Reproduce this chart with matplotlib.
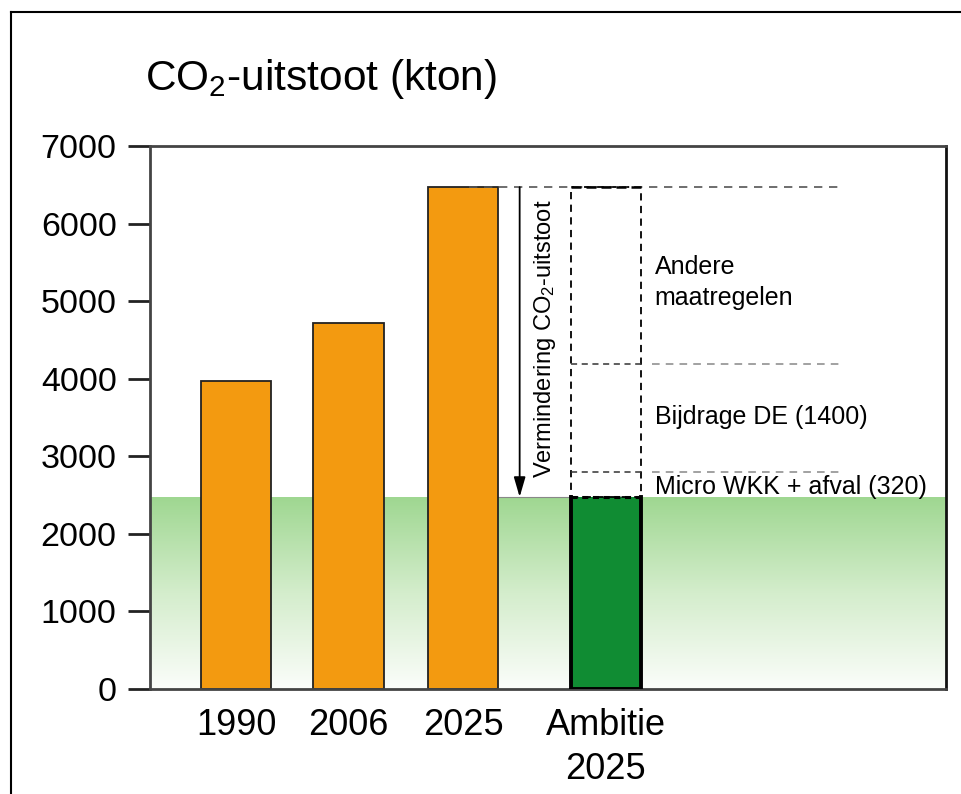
import numpy as np
import matplotlib
matplotlib.use("Agg")
import matplotlib.pyplot as plt
from matplotlib.colors import LinearSegmentedColormap
from matplotlib.lines import Line2D

plt.rcParams['font.family'] = ['Liberation Sans', 'DejaVu Sans']
plt.rcParams['mathtext.fontset'] = 'custom'
plt.rcParams['mathtext.rm'] = 'Liberation Sans'
plt.rcParams['mathtext.it'] = 'Liberation Sans'

# -- Data (kton CO2) --
years = ["1990", "2006", "2025"]
emissions = [3970, 4720, 6470]
ambition_label = "Ambitie\n2025"
ambition = 2475
micro_wkk = 320      # Micro WKK + afval
bijdrage_de = 1400   # Bijdrage DE
yticks = [0, 1000, 2000, 3000, 4000, 5000, 6000, 7000]

x_years = np.array([0.0, 0.99, 2.0])
x_amb = 3.26
bar_w = 0.62

orange = "#f39a10"
green = "#108c33"

fig = plt.figure(figsize=(9.62, 7.94), dpi=100)
ax = fig.add_axes([150 / 962, 1 - 689 / 794, 796 / 962, 543 / 794])
ax.set_xlim(-0.76, 6.26)
ax.set_ylim(0, 7000)

# green gradient band up to the ambition level
cmap = LinearSegmentedColormap.from_list("band", ["#fbfdfa", "#d4edcc", "#9fd791"])
grad = np.linspace(0, 1, 256).reshape(-1, 1)
ax.imshow(grad, cmap=cmap, origin="lower", aspect="auto",
          extent=[-0.76, 6.26, 0, ambition], zorder=0)

ax.bar(x_years, emissions, width=bar_w, color=orange,
       edgecolor="#222222", linewidth=1.3, zorder=2)

# ambition bar: solid sides, dashed top
ax.bar([x_amb], [ambition], width=bar_w, color=green, linewidth=0, zorder=2)
xl, xr = x_amb - bar_w / 2, x_amb + bar_w / 2
ax.plot([xl, xl, xr, xr], [ambition, 0, 0, ambition], color="black",
        lw=2.8, zorder=3, solid_joinstyle="miter")

# dashed stack of the reductions on top of the ambition bar
reduction = emissions[2] - ambition
ax.bar([x_amb], [reduction], bottom=ambition, width=bar_w, fill=False,
       edgecolor="black", linestyle=(0, (4, 3)), linewidth=1.3, zorder=3)
ax.plot([xl, xr], [ambition, ambition], color="black", lw=2.2,
        linestyle=(0, (2, 1.5)), zorder=4)
ax.plot([xl, xr], [emissions[2], emissions[2]], color="black", lw=1.8,
        linestyle=(0, (4, 2)), zorder=4)

lvl_micro = ambition + micro_wkk
lvl_de = lvl_micro + bijdrage_de
ax.hlines([lvl_micro, lvl_de], xl, xr, colors="#333333",
          linestyles=(0, (4, 3)), lw=1.1, zorder=3)
ax.hlines([lvl_micro, lvl_de], xr + 0.1, 5.32, colors="#888888",
          linestyles=(0, (5, 4)), lw=1.1, zorder=3)
ax.hlines(emissions[2], x_years[2] + 0.05, 5.32, colors="#555555",
          linestyles=(0, (5, 4)), lw=1.2, zorder=3)
ax.hlines(ambition, 2.2, xl, colors="#888888", lw=0.8, zorder=1)

# reduction arrow
ax.annotate("", xy=(2.5, ambition), xytext=(2.5, emissions[2]),
            arrowprops=dict(arrowstyle="-|>,head_length=1.2,head_width=0.35",
                            color="black", lw=1.3, shrinkA=0, shrinkB=0),
            zorder=4)
ax.text(2.72, 4510, "Vermindering CO$_2$-uitstoot", rotation=90,
        ha="center", va="center", fontsize=17, zorder=4)

ax.text(3.69, 5240, "Andere\nmaatregelen", ha="left", va="center",
        fontsize=18, linespacing=1.35)
ax.text(3.69, 3500, "Bijdrage DE (1400)", ha="left", va="center",
        fontsize=18)
ax.text(3.69, 2600, "Micro WKK + afval (320)", ha="left", va="center",
        fontsize=18)

ax.set_yticks(yticks)
ax.set_yticklabels([str(v) for v in yticks], fontsize=24.5)
ax.set_xticks(list(x_years) + [x_amb])
ax.set_xticklabels(years + [ambition_label], fontsize=26, linespacing=1.3)
ax.tick_params(axis="y", length=16, width=2, color="#222222", pad=8)
ax.tick_params(axis="x", length=0, pad=14)
for side, sp in ax.spines.items():
    sp.set_color("#444444")
    sp.set_linewidth(2)
ax.spines["right"].set_color("#111111")

fig.text(145 / 962, 1 - 90 / 794, "CO$_2$-uitstoot (kton)", fontsize=30.5,
         ha="left", va="baseline")

# outer frame lines
fig.add_artist(Line2D([11 / 962, 1.0], [1 - 12 / 794, 1 - 12 / 794],
                      transform=fig.transFigure, color="black", lw=1.5))
fig.add_artist(Line2D([11 / 962, 11 / 962], [0, 1 - 12 / 794],
                      transform=fig.transFigure, color="black", lw=1.5))

fig.savefig("out.png", dpi=100)
